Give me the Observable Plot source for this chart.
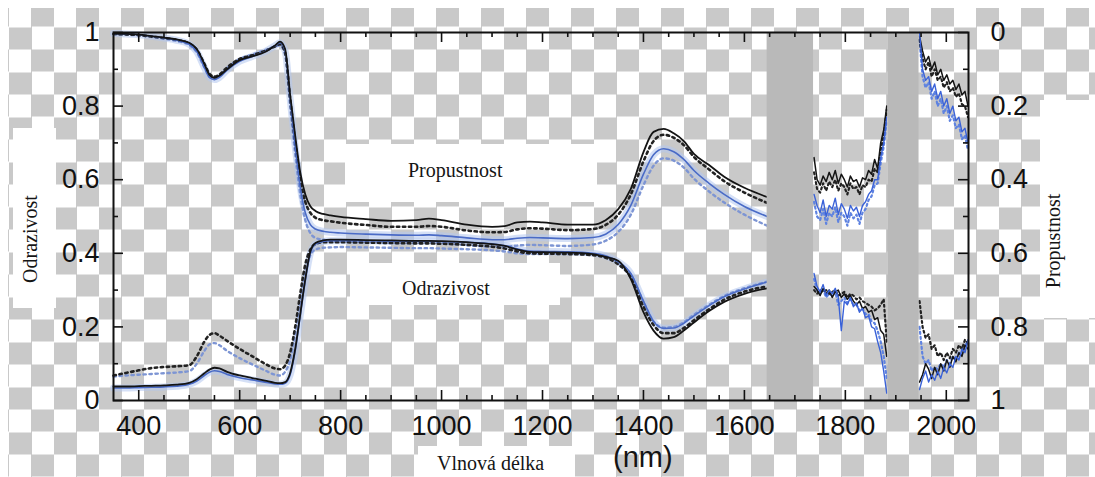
<!DOCTYPE html>
<html><head><meta charset="utf-8">
<script src="https://cdn.jsdelivr.net/npm/d3@7"></script>
<script src="https://cdn.jsdelivr.net/npm/@observablehq/plot@0.6"></script>
<style>
html,body{margin:0;padding:0;background:#fff;}
#wrap{position:relative;width:1095px;height:477px;overflow:hidden;
 background: repeating-conic-gradient(#c9c9c9 0 25%, #ffffff 0 50%) 9px 4.5px / 45px 45px;}
#under,#chart{position:absolute;left:0;top:0;}
</style></head><body>
<div id="wrap"><svg id="under" width="1095" height="477"></svg><div id="chart"></div></div>
<script>
// ---------- data ----------
const wlA = [350,375,400,425,450,475,500,515,530,540,550,560,575,600,625,650,670,680,690,700,710,720,730,740,750,765,780,800,850,900,950,975,1000,1050,1100,1125,1150,1175,1200,1250,1300,1325,1350,1375,1400,1420,1440,1460,1480,1500,1530,1560,1600,1645];
const wlB = [1738,1744,1750,1756,1762,1768,1774,1780,1786,1792,1798,1804,1810,1816,1822,1828,1834,1840,1846,1852,1858,1864,1870,1876,1882];
const wlC = [1947,1953,1959,1965,1971,1977,1983,1989,1995,2001,2007,2013,2019,2025,2031,2037,2043];

// Odrazivost (reflectance, left axis)
const R_black_A = [.038,.038,.039,.04,.041,.043,.048,.058,.074,.084,.089,.087,.078,.068,.061,.054,.048,.047,.05,.075,.14,.235,.33,.405,.428,.435,.437,.437,.436,.435,.434,.434,.433,.43,.425,.42,.41,.404,.403,.402,.398,.39,.38,.33,.24,.19,.168,.172,.19,.212,.243,.268,.29,.305];
const R_blackDot_A = [.068,.075,.082,.088,.091,.093,.096,.12,.16,.178,.183,.176,.162,.14,.12,.1,.087,.085,.095,.13,.2,.29,.37,.41,.425,.43,.43,.43,.429,.428,.427,.427,.426,.423,.418,.413,.405,.4,.399,.398,.395,.388,.37,.335,.255,.205,.183,.183,.197,.218,.248,.274,.296,.31];
const R_blue_A = [.034,.034,.035,.036,.037,.039,.044,.053,.068,.077,.081,.079,.071,.062,.056,.05,.045,.044,.047,.07,.135,.23,.325,.4,.425,.432,.434,.434,.434,.433,.433,.433,.432,.43,.426,.421,.412,.406,.405,.404,.4,.393,.377,.345,.27,.215,.196,.197,.21,.23,.258,.282,.303,.322];
const R_blueDot_A = [.065,.068,.07,.072,.074,.076,.08,.1,.135,.152,.156,.15,.135,.115,.098,.082,.07,.068,.078,.11,.18,.27,.35,.395,.41,.415,.416,.417,.416,.415,.414,.414,.413,.411,.408,.405,.4,.398,.398,.398,.396,.39,.375,.342,.268,.215,.198,.2,.213,.233,.26,.284,.305,.323];
const R_black_B = [.31,.3,.285,.305,.29,.3,.28,.295,.3,.28,.29,.275,.285,.27,.26,.27,.25,.255,.24,.245,.22,.225,.19,.18,.12];
const R_blackDot_B = [.3,.29,.3,.295,.3,.29,.295,.3,.285,.29,.295,.28,.29,.285,.275,.28,.27,.265,.26,.255,.245,.25,.26,.275,.16];
const R_blue_B = [.345,.31,.295,.315,.285,.3,.29,.305,.28,.19,.27,.26,.28,.255,.265,.24,.25,.225,.23,.2,.195,.16,.13,.08,.02];
const R_blueDot_B = [.33,.3,.29,.3,.28,.29,.285,.295,.26,.27,.28,.265,.275,.26,.26,.245,.25,.235,.235,.215,.21,.19,.16,.12,.06];
const R_black_C = [.05,.07,.1,.085,.06,.09,.07,.1,.08,.11,.09,.12,.105,.13,.12,.15,.14];
const R_blackDot_C = [.27,.2,.17,.18,.14,.15,.12,.13,.11,.13,.115,.14,.13,.15,.14,.165,.155];
const R_blue_C = [.03,.06,.08,.05,.07,.055,.08,.06,.09,.075,.1,.09,.12,.11,.14,.13,.165];
const R_blueDot_C = [.2,.12,.1,.11,.08,.09,.085,.1,.09,.11,.1,.12,.11,.13,.125,.15,.16];

// Propustnost (transmittance, right reversed axis)
const T_black_A = [.003,.004,.006,.01,.014,.019,.028,.045,.085,.115,.123,.117,.1,.075,.065,.053,.035,.025,.045,.17,.28,.38,.44,.472,.485,.493,.497,.501,.507,.512,.51,.506,.51,.522,.528,.526,.516,.514,.516,.522,.522,.51,.48,.425,.325,.27,.262,.274,.295,.33,.36,.392,.422,.447];
const T_blackDot_A = [.004,.005,.007,.011,.015,.02,.03,.047,.085,.112,.12,.114,.095,.072,.062,.05,.038,.032,.055,.18,.3,.4,.46,.49,.503,.51,.513,.517,.523,.528,.528,.526,.528,.538,.543,.542,.535,.532,.533,.537,.534,.523,.495,.44,.35,.295,.278,.286,.306,.338,.372,.404,.435,.463];
const T_blue_A = [.003,.004,.006,.01,.015,.021,.032,.052,.095,.122,.128,.122,.102,.078,.065,.052,.036,.028,.05,.18,.31,.42,.49,.522,.534,.54,.543,.545,.548,.55,.551,.55,.552,.558,.563,.563,.559,.557,.558,.56,.557,.548,.522,.47,.385,.332,.316,.324,.345,.375,.41,.44,.473,.5];
const T_blueDot_A = [.005,.006,.008,.012,.017,.023,.034,.054,.095,.12,.125,.118,.097,.072,.06,.048,.038,.035,.06,.2,.33,.44,.51,.545,.558,.563,.566,.568,.57,.572,.572,.571,.572,.578,.582,.582,.579,.577,.578,.58,.576,.566,.542,.495,.415,.362,.342,.348,.367,.397,.432,.462,.495,.525];
const T_black_B = [.34,.4,.415,.39,.405,.38,.4,.375,.41,.385,.4,.42,.39,.405,.4,.42,.395,.4,.375,.385,.345,.37,.3,.265,.2];
const T_blackDot_B = [.38,.425,.435,.41,.43,.405,.42,.4,.43,.41,.42,.44,.41,.425,.42,.44,.415,.42,.4,.405,.37,.38,.32,.28,.21];
const T_blue_B = [.44,.47,.49,.455,.5,.47,.48,.45,.495,.465,.48,.505,.47,.485,.475,.5,.47,.46,.44,.43,.4,.4,.34,.3,.23];
const T_blueDot_B = [.46,.5,.51,.48,.52,.49,.5,.475,.515,.49,.5,.525,.49,.505,.495,.52,.49,.48,.455,.445,.415,.41,.355,.31,.24];
const T_black_C = [.01,.05,.08,.065,.1,.08,.115,.1,.13,.115,.14,.13,.155,.14,.17,.16,.2];
const T_blackDot_C = [.02,.07,.1,.08,.12,.1,.13,.12,.15,.135,.16,.15,.175,.165,.195,.2,.23];
const T_blue_C = [0,.1,.13,.12,.16,.14,.18,.16,.2,.18,.22,.2,.24,.23,.27,.26,.3];
const T_blueDot_C = [.02,.12,.15,.135,.18,.16,.2,.18,.22,.2,.24,.225,.26,.25,.29,.28,.32];

const gapBands = [[1645,1737],[1884,1946]];
const xMajor = [400,600,800,1000,1200,1400,1600,1800,2000];
const xMinor = [450,500,550,650,700,750,850,900,950,1050,1100,1150,1250,1300,1350,1450,1500,1550,1650,1700,1750,1850,1900,1950];
const yMajor = [0,0.2,0.4,0.6,0.8,1];
const yMinor = [0.1,0.3,0.5,0.7,0.9];

// ---------- chart ----------
const W = 1095, H = 477, mL = 113, mR = 127, mT = 32, mB = 77;
const fw = W - mL - mR, fh = H - mT - mB;
const fmt = d => String(Math.round(d * 10) / 10);
const pts = (wl, vals, isT) => wl.map((w, i) => ({wl: w, y: isT ? 1 - vals[i] : vals[i]}));

const STY = {
  halo: {stroke: "#b3c6ee", strokeWidth: 7, strokeOpacity: 0.55},
  bk: {stroke: "#141414", strokeWidth: 1.8},
  bkDot: {stroke: "#222", strokeWidth: 2.6, strokeDasharray: "2.4,3.6"},
  bl: {stroke: "#4a6bc6", strokeWidth: 1.6},
  blDot: {stroke: "#7d95d4", strokeWidth: 2.4, strokeDasharray: "2.4,3.6"},
  bkN: {stroke: "#141414", strokeWidth: 1.5},
  bkDotN: {stroke: "#222", strokeWidth: 2.2, strokeDasharray: "2,3"},
  blN: {stroke: "#3a62d8", strokeWidth: 1.4},
  blDotN: {stroke: "#5f83e0", strokeWidth: 2.2, strokeDasharray: "2,3"}
};

const smooth = {curve: "monotone-x"};
const lineMarks = [
  Plot.line(pts(wlA, R_blue_A, false), {x: "wl", y: "y", ...STY.halo, ...smooth}),
  Plot.line(pts(wlA, T_blue_A, true), {x: "wl", y: "y", ...STY.halo, ...smooth}),
  Plot.line(pts(wlA, R_blueDot_A, false), {x: "wl", y: "y", ...STY.blDot, ...smooth}),
  Plot.line(pts(wlA, T_blueDot_A, true), {x: "wl", y: "y", ...STY.blDot, ...smooth}),
  Plot.line(pts(wlA, R_blackDot_A, false), {x: "wl", y: "y", ...STY.bkDot, ...smooth}),
  Plot.line(pts(wlA, T_blackDot_A, true), {x: "wl", y: "y", ...STY.bkDot, ...smooth}),
  Plot.line(pts(wlA, R_blue_A, false), {x: "wl", y: "y", ...STY.bl, ...smooth}),
  Plot.line(pts(wlA, T_blue_A, true), {x: "wl", y: "y", ...STY.bl, ...smooth}),
  Plot.line(pts(wlA, R_black_A, false), {x: "wl", y: "y", ...STY.bk, ...smooth}),
  Plot.line(pts(wlA, T_black_A, true), {x: "wl", y: "y", ...STY.bk, ...smooth})
];
for (const [wl, rb, rbd, rl, rld, tb, tbd, tl, tld] of [
  [wlB, R_black_B, R_blackDot_B, R_blue_B, R_blueDot_B, T_black_B, T_blackDot_B, T_blue_B, T_blueDot_B],
  [wlC, R_black_C, R_blackDot_C, R_blue_C, R_blueDot_C, T_black_C, T_blackDot_C, T_blue_C, T_blueDot_C]
]) {
  lineMarks.push(
    Plot.line(pts(wl, rld, false), {x: "wl", y: "y", ...STY.blDotN}),
    Plot.line(pts(wl, tld, true), {x: "wl", y: "y", ...STY.blDotN}),
    Plot.line(pts(wl, rbd, false), {x: "wl", y: "y", ...STY.bkDotN}),
    Plot.line(pts(wl, tbd, true), {x: "wl", y: "y", ...STY.bkDotN}),
    Plot.line(pts(wl, rb, false), {x: "wl", y: "y", ...STY.bkN}),
    Plot.line(pts(wl, tb, true), {x: "wl", y: "y", ...STY.bkN}),
    Plot.line(pts(wl, rl, false), {x: "wl", y: "y", ...STY.blN}),
    Plot.line(pts(wl, tl, true), {x: "wl", y: "y", ...STY.blN})
  );
}

const tk = {stroke: "#111", strokeWidth: 1.6};
const axFont = {fontSize: 27, fontFamily: "'Liberation Sans', Arial, sans-serif", fill: "#111", label: null};

const chart = Plot.plot({
  width: W, height: H,
  marginLeft: mL, marginRight: mR, marginTop: mT, marginBottom: mB,
  x: {domain: [350, 2044], axis: null, label: null},
  y: {domain: [0, 1], axis: null, label: null},
  style: {background: "transparent", overflow: "visible", fontFamily: "'Liberation Sans', Arial, sans-serif"},
  marks: [
    ...lineMarks,
    Plot.rect(gapBands, {x1: d => d[0], x2: d => d[1], fill: "#b9b9b9"}),
    Plot.tickX(xMajor, {x: d => d, insetTop: fh - 10, ...tk}),
    Plot.tickX(xMajor, {x: d => d, insetBottom: fh - 10, ...tk}),
    Plot.tickX(xMinor, {x: d => d, insetTop: fh - 5, ...tk}),
    Plot.tickX(xMinor, {x: d => d, insetBottom: fh - 5, ...tk}),
    Plot.tickY(yMajor, {y: d => d, insetRight: fw - 10, ...tk}),
    Plot.tickY(yMajor, {y: d => d, insetLeft: fw - 10, ...tk}),
    Plot.tickY(yMinor, {y: d => d, insetRight: fw - 5, ...tk}),
    Plot.tickY(yMinor, {y: d => d, insetLeft: fw - 5, ...tk}),
    Plot.frame({stroke: "#111", strokeWidth: 2}),
    Plot.axisX({ticks: xMajor, anchor: "bottom", tickSize: 0, tickPadding: 15, tickFormat: d => String(d), ...axFont}),
    Plot.axisY({ticks: yMajor, anchor: "left", tickSize: 0, tickPadding: 14, tickFormat: fmt, ...axFont}),
    Plot.axisY({ticks: yMajor, anchor: "right", tickSize: 0, tickPadding: 22, tickFormat: d => fmt(1 - d), ...axFont})
  ]
});
document.getElementById("chart").appendChild(chart);

// ---------- pasted label boxes and texts ----------
const under = d3.select("#under");
const boxes = [
  [0, 0, 1095, 8], [0, 0, 8, 477],
  [13, 128, 43, 180], [345, 144, 252, 58], [350, 263, 210, 42],
  [418, 446, 157, 31], [1040, 100, 55, 218]
];
under.selectAll("rect").data(boxes).join("rect")
  .attr("x", d => d[0]).attr("y", d => d[1]).attr("width", d => d[2]).attr("height", d => d[3])
  .attr("fill", "#fff");
const serif = "'Liberation Serif', 'Times New Roman', serif";
const labels = [
  {t: "Propustnost", tr: "translate(408,177)", a: "start", f: serif, s: 20},
  {t: "Odrazivost", tr: "translate(402,295)", a: "start", f: serif, s: 20},
  {t: "Vlnová délka", tr: "translate(437,470)", a: "start", f: serif, s: 20},
  {t: "(nm)", tr: "translate(613,467)", a: "start", f: "'Liberation Sans', Arial, sans-serif", s: 29},
  {t: "Odrazivost", tr: "translate(37,239) rotate(-90)", a: "middle", f: serif, s: 20},
  {t: "Propustnost", tr: "translate(1060,241) rotate(-90)", a: "middle", f: serif, s: 20}
];
under.selectAll("text").data(labels).join("text")
  .attr("transform", d => d.tr).attr("text-anchor", d => d.a)
  .attr("font-family", d => d.f).attr("font-size", d => d.s).attr("fill", "#151515")
  .text(d => d.t);
</script>
</body></html>
